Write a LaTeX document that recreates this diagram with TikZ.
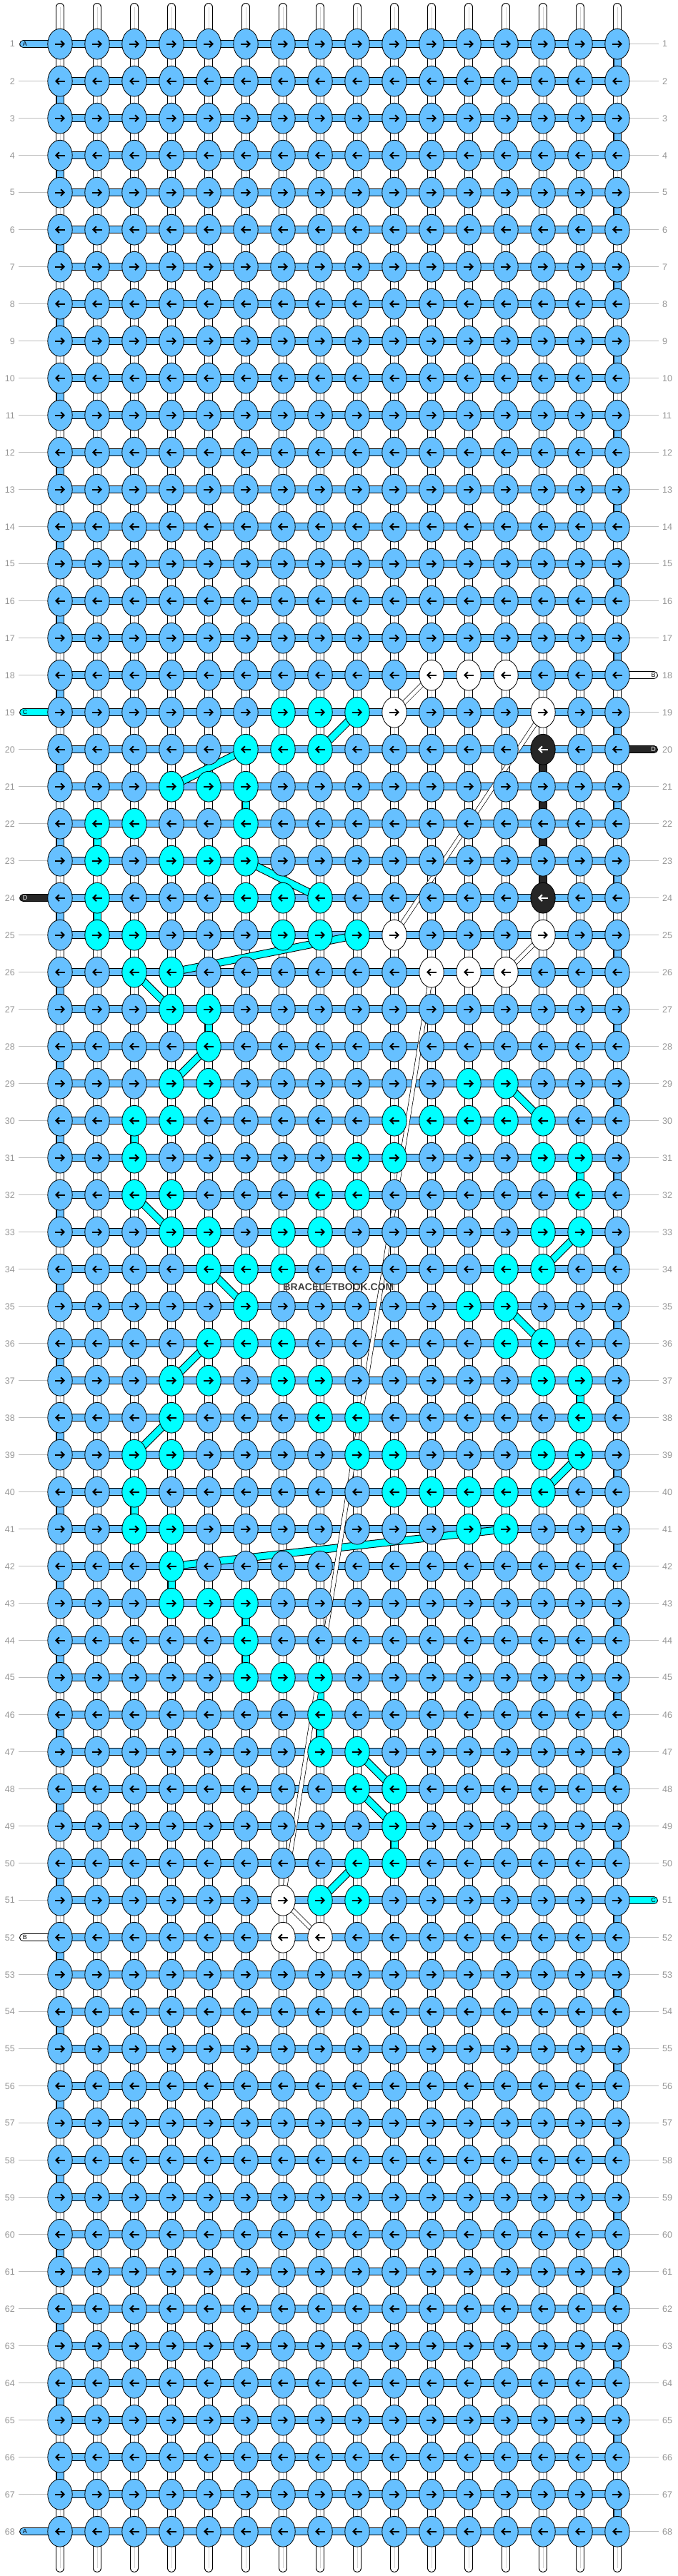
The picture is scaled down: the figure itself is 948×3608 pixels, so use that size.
\documentclass[tikz,border=0pt]{standalone}
\usepackage{fontspec}
\setmainfont{Liberation Sans}
\usetikzlibrary{shapes.geometric,arrows.meta}
\pgfdeclarelayer{strings}
\pgfsetlayers{strings,main}
\definecolor{sky}{RGB}{102,192,255}
\definecolor{aqua}{RGB}{0,255,255}
\definecolor{ink}{RGB}{38,38,38}
\definecolor{numgray}{RGB}{150,150,150}
\definecolor{tickgray}{RGB}{190,190,190}
\colorlet{ar-sky}{black}
\colorlet{ar-aqua}{black}
\colorlet{ar-white}{black}
\colorlet{ar-ink}{white}
% knots that are not sky blue
\newcommand\setknots[2]{%
  \foreach \ro/\cs in {#2}{\foreach \co in \cs {\expandafter\xdef\csname kc-\ro-\co\endcsname{#1}}}}
\setknots{aqua}{19/{7,8,9}, 20/{6,7,8}, 21/{4,5,6}, 22/{2,3,6}, 23/{2,4,5,6},
  24/{2,6,7,8}, 25/{2,3,7,8,9}, 26/{3,4}, 27/{4,5}, 28/{5}, 29/{4,5,12,13},
  30/{3,4,10,11,12,13,14}, 31/{3,9,10,14,15}, 32/{3,4,8,9,15}, 33/{4,5,7,8,14,15},
  34/{5,6,7,13,14}, 35/{6,12,13}, 36/{5,6,7,13,14}, 37/{4,5,7,8,14,15},
  38/{4,8,9,15}, 39/{3,4,9,10,14,15}, 40/{3,10,11,12,13,14}, 41/{3,4,12,13},
  42/{4}, 43/{4,5,6}, 44/{6}, 45/{6,7,8}, 46/{8}, 47/{8,9}, 48/{9,10}, 49/{10},
  50/{9,10}, 51/{8,9}}
\setknots{white}{18/{11,12,13}, 19/{10,14}, 25/{10,14}, 26/{11,12,13}, 51/{7}, 52/{7,8}}
\setknots{ink}{20/{14}, 24/{14}}
% rows where a string comes in
\foreach \ro in {1,19,24,52,68}{\expandafter\xdef\csname skipL-\ro\endcsname{1}}
\foreach \ro in {18,20,51}{\expandafter\xdef\csname skipR-\ro\endcsname{1}}
\begin{document}
\begin{tikzpicture}[x=1pt, y=-1pt]
    \tikzset{
        knot/.style = {ellipse, draw=black, line width=0.8pt, minimum width=34.4pt, minimum height=42.8pt, inner sep=0pt},
        knotarrow/.style = {line width=2pt, -{Straight Barb[length=4.5pt,width=9pt]}},
        basestr/.style = {draw=black, line width=0.9pt, double=white, double distance=9.9pt, line cap=round},
        midline/.style = {draw=gray!35, line width=0.5pt},
        rowband/.style = {draw=black, line width=1pt, double=sky, double distance=8.7pt},
        colband/.style = {draw=black, line width=1pt, double=#1, double distance=9pt},
        whitestr/.style = {draw=black, line width=0.7pt, double=white, double distance=5pt},
        endstr/.style = {draw=black, line width=1pt, double=#1, double distance=8.7pt, line cap=round},
        rownum/.style = {font=\fontsize{12.5}{14}\selectfont, text=numgray, inner sep=0pt},
        rowtick/.style = {draw=tickgray, line width=1pt},
        endtag/.style = {font=\fontsize{9}{10}\selectfont, inner sep=0pt},
        watermark/.style = {font=\bfseries\fontsize{14}{16}\selectfont, text=black!75, inner sep=0pt},
    }
    \useasboundingbox (0,0) rectangle (948,3608);
    % knots
    \foreach \ro [evaluate=\ro as \y using {61.7+52*(\ro-1)}] in {1,...,68}{
        \foreach \co [evaluate=\co as \x using {84+52*(\co-1)}] in {1,...,16}{
            \ifcsname kc-\ro-\co\endcsname\edef\kcol{\csname kc-\ro-\co\endcsname}\else\def\kcol{sky}\fi
            \node[knot, fill=\kcol] (k-\ro-\co) at (\x,\y) {};
            \ifodd\ro\def\ax{-7}\def\bx{7}\else\def\ax{7}\def\bx{-7}\fi
            \draw[knotarrow, draw=ar-\kcol] ([xshift=\ax pt]k-\ro-\co.center) -- ([xshift=\bx pt]k-\ro-\co.center);
        }
        \node[rownum, anchor=east] (lab-L-\ro) at (21,\y) {\ro};
        \node[rownum, anchor=west] (lab-R-\ro) at (927,\y) {\ro};
    }
    %
    \foreach \ro in {1,...,68}{
        \ifcsname skipL-\ro\endcsname\else\draw[rowtick] ([xshift=5pt]lab-L-\ro.east) -- (k-\ro-1);\fi
        \ifcsname skipR-\ro\endcsname\else\draw[rowtick] (k-\ro-16) -- ([xshift=-5pt]lab-R-\ro.west);\fi
    }
    %
    \node[watermark] (wm) at (474,1803) {BRACELETBOOK.COM};
    %
    \begin{pgfonlayer}{strings}
        \fill[white] (0,0) rectangle (948,3608);
        % base strings
        \foreach \co [evaluate=\co as \x using {84+52*(\co-1)}] in {1,...,16}{
            \coordinate (top-\co) at (\x,10);
            \coordinate (bot-\co) at (\x,3597);
            \draw[basestr] (top-\co) -- (bot-\co);
            \draw[midline] (top-\co) -- (bot-\co);
        }
        % knotting string
        \foreach \ro in {1,...,68}
            \draw[rowband] (k-\ro-1.center) -- (k-\ro-16.center);
        \foreach \ro [evaluate=\ro as \nx using int(\ro+1)] in {1,3,...,67}
            \draw[colband=sky] (k-\ro-16.center) -- (k-\nx-16.center);
        \foreach \ro [evaluate=\ro as \nx using int(\ro+1)] in {2,4,...,66}
            \draw[colband=sky] (k-\ro-1.center) -- (k-\nx-1.center);
        % coloured pieces between rows
        \foreach \ro/\co/\k [evaluate=\ro as \nx using int(\ro+1)] in {22/2/aqua, 24/2/aqua,
            21/6/aqua, 27/5/aqua, 30/3/aqua, 40/3/aqua, 31/15/aqua, 37/15/aqua, 42/4/aqua,
            43/6/aqua, 44/6/aqua, 45/8/aqua, 46/8/aqua, 49/10/aqua,
            20/14/ink, 21/14/ink, 22/14/ink, 23/14/ink}
            \draw[colband=\k] (k-\ro-\co.center) -- (k-\nx-\co.center);
        % carried strings
        \foreach \ra/\ca/\rb/\cb in {19/9/20/8, 20/6/21/4, 23/6/24/8, 25/9/26/4, 26/3/27/4,
            28/5/29/4, 29/13/30/14, 32/3/33/4, 33/15/34/14, 34/5/35/6, 35/13/36/14,
            36/5/37/4, 38/4/39/3, 39/15/40/14, 41/13/42/4, 47/9/48/10, 48/9/49/10, 50/9/51/8}
            \draw[colband=aqua] (k-\ra-\ca.center) -- (k-\rb-\cb.center);
        \foreach \ra/\ca/\rb/\cb in {18/11/19/10, 19/14/25/10, 25/14/26/13, 26/11/51/7, 51/7/52/8}
            \draw[whitestr] (k-\ra-\ca.center) -- (k-\rb-\cb.center);
        % strings coming in
        \foreach \ro/\k/\t in {1/sky/A, 19/aqua/C, 24/ink/D, 52/white/B, 68/sky/A}{
            \coordinate (inL-\ro) at ([xshift=-51.5pt]k-\ro-1.center);
            \draw[endstr=\k] (inL-\ro) -- (k-\ro-1.center);
            \node[endtag, text=ar-\k] (tagL-\ro) at ([xshift=2.5pt]inL-\ro) {\t};
        }
        \foreach \ro/\k/\t in {18/white/B, 20/ink/D, 51/aqua/C}{
            \coordinate (inR-\ro) at ([xshift=51.5pt]k-\ro-16.center);
            \draw[endstr=\k] (k-\ro-16.center) -- (inR-\ro);
            \node[endtag, text=ar-\k] (tagR-\ro) at ([xshift=-1pt]inR-\ro) {\t};
        }
    \end{pgfonlayer}
\end{tikzpicture}
\end{document}
